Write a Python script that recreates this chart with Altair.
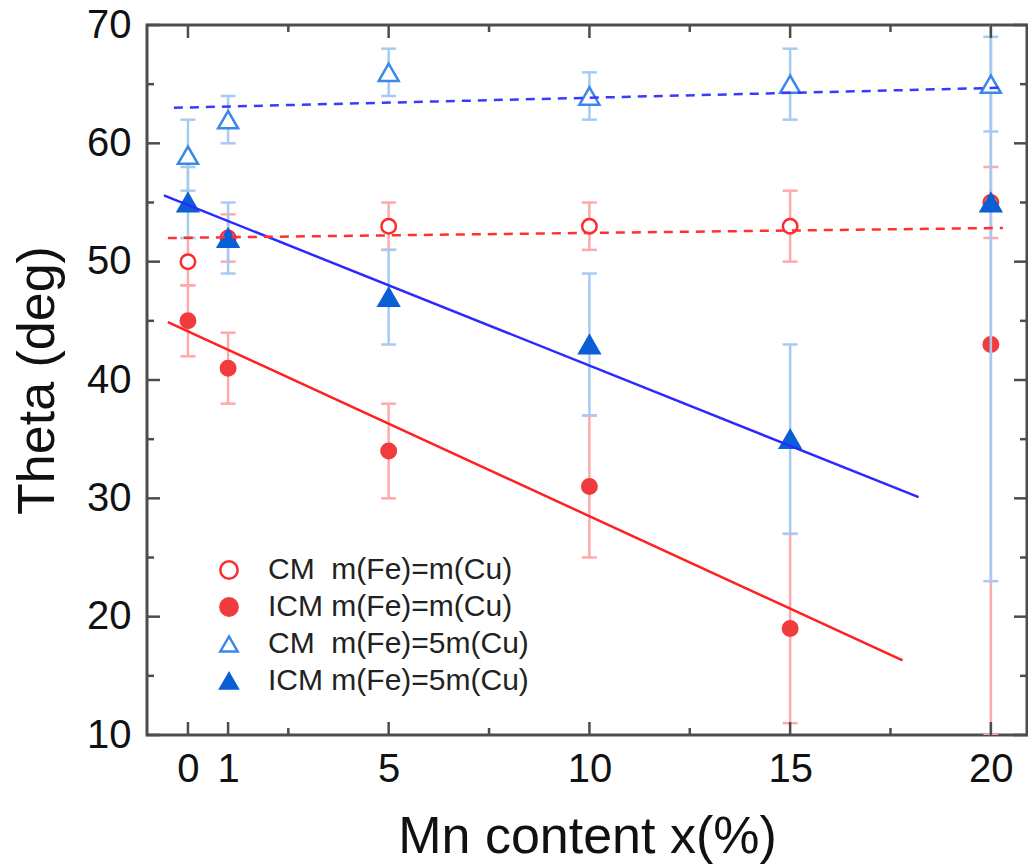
import altair as alt
import pandas as pd

# ---------------- data ----------------
x_vals = [0, 1, 5, 10, 15, 20]
cm_red = [50, 52, 53, 53, 53, 55]
cm_red_err = [2, 2, 2, 2, 3, 3]
icm_red = [45, 41, 34, 31, 19, 43]
icm_red_err = [3, 3, 4, 6, 8, 33]
cm_blue = [59, 62, 66, 64, 65, 65]
cm_blue_err = [3, 2, 2, 2, 3, 4]
icm_blue = [55, 52, 47, 43, 35, 55]
icm_blue_err = [3, 3, 4, 6, 8, 32]

series_names = ["CM\u00a0\u00a0m(Fe)=m(Cu)", "ICM m(Fe)=m(Cu)",
                "CM\u00a0\u00a0m(Fe)=5m(Cu)", "ICM m(Fe)=5m(Cu)"]
stroke_colors = ["#ff2b2b", "#f03c3c", "#3a88e8", "#0a5fd6"]
fill_colors = ["#ffffff", "#f03c3c", "#ffffff", "#0a5fd6"]
shapes = ["circle", "circle", "triangle-up", "triangle-up"]

# linear fit lines (end points)
fit_names = ["fit CM red", "fit ICM red", "fit CM blue", "fit ICM blue"]
fit_x0 = [-0.5, -0.5, -0.35, -0.6]
fit_x1 = [20.3, 17.8, 20.3, 18.2]
fit_y0 = [52.0, 44.9, 63.0, 55.6]
fit_y1 = [52.85, 16.3, 64.7, 30.1]
fit_colors = ["#ff3030", "#ff2020", "#3a3aff", "#2a2aff"]
fit_dashed = [True, False, True, False]

x_major_bottom = [0, 1, 5, 10, 15, 20]
x_major_top = [0, 5, 10, 15, 20]
x_minor = [2.5, 7.5, 12.5, 17.5]
y_major = [10, 20, 30, 40, 50, 60, 70]
y_minor = [15, 25, 35, 45, 55, 65]

# ---------------- tables ----------------
rows = []
for name, vals, errs, grp in [
    (series_names[0], cm_red, cm_red_err, "red"),
    (series_names[1], icm_red, icm_red_err, "red"),
    (series_names[2], cm_blue, cm_blue_err, "blue"),
    (series_names[3], icm_blue, icm_blue_err, "blue"),
]:
    for xv, v, e in zip(x_vals, vals, errs):
        rows.append(dict(x=xv, y=v, lo=v - e, hi=v + e, series=name, grp=grp))
df = pd.DataFrame(rows)
red_df = df[df.grp == "red"]
blue_df = df[df.grp == "blue"]

fits = pd.DataFrame(dict(name=fit_names, x0=fit_x0, x1=fit_x1, y0=fit_y0,
                         y1=fit_y1, color=fit_colors, dashed=fit_dashed))

W, H = 880, 710
FONT = "Liberation Sans"

xs = alt.Scale(domain=[-1.02, 20.9], nice=False, zero=False)
ys = alt.Scale(domain=[10, 70], nice=False, zero=False)

xaxis = alt.Axis(values=x_major_bottom, ticks=False, domain=False, grid=False,
                 labelFontSize=40, labelFont=FONT, labelColor="#111",
                 labelPadding=14, labelFlush=False, labelOverlap=False,
                 title="Mn content x(%)", titleFont=FONT, titleFontSize=52,
                 titleFontWeight="normal", titleColor="#111",
                 titleY=117, titleBaseline="alphabetic")
yaxis = alt.Axis(values=y_major, ticks=False, domain=False, grid=False,
                 labelFontSize=40, labelFont=FONT, labelColor="#111",
                 labelPadding=16, labelFlush=False, labelOverlap=False,
                 title="Theta (deg)", titleFont=FONT, titleFontSize=52,
                 titleFontWeight="normal", titleColor="#111",
                 titleX=-94, titleY=355, titleBaseline="alphabetic")


def X(f):
    return alt.X(f, type="quantitative", scale=xs, axis=xaxis)


def Y(f):
    return alt.Y(f, type="quantitative", scale=ys, axis=yaxis)


legend = alt.Legend(title=None, orient="none", legendX=67, legendY=530,
                    labelFont=FONT, labelFontSize=30, labelColor="#222",
                    labelLimit=600,
                    symbolSize=300, symbolStrokeWidth=2.5, rowPadding=7,
                    labelOffset=24, padding=0, symbolOpacity=1)


def point_enc():
    return dict(
        x=X("x"), y=Y("y"),
        stroke=alt.Stroke("series:N", scale=alt.Scale(domain=series_names, range=stroke_colors), legend=legend),
        fill=alt.Fill("series:N", scale=alt.Scale(domain=series_names, range=fill_colors), legend=legend),
        shape=alt.Shape("series:N", scale=alt.Scale(domain=series_names, range=shapes), legend=legend),
    )


def errbars(d, color):
    base = alt.Chart(d)
    bar = base.mark_rule(color=color, strokeWidth=2.5, clip=True).encode(
        x=X("x"), y=Y("lo"), y2="hi")
    cap_hi = base.mark_rule(color=color, strokeWidth=2.5, clip=True,
                            xOffset=-7.5, x2Offset=7.5).encode(
        x=X("x"), x2="x", y=Y("hi"))
    cap_lo = base.mark_rule(color=color, strokeWidth=2.5, clip=True,
                            xOffset=-7.5, x2Offset=7.5).encode(
        x=X("x"), x2="x", y=Y("lo"))
    return [bar, cap_hi, cap_lo]


# fit lines
fit_solid = alt.Chart(fits[~fits.dashed]).mark_rule(strokeWidth=2.5).encode(
    x=X("x0"), x2="x1", y=Y("y0"), y2="y1",
    color=alt.Color("color:N", scale=None))
fit_dash = alt.Chart(fits[fits.dashed]).mark_rule(strokeWidth=2.5, strokeDash=[9, 7]).encode(
    x=X("x0"), x2="x1", y=Y("y0"), y2="y1",
    color=alt.Color("color:N", scale=None))

red_pts = alt.Chart(red_df).mark_point(size=210, strokeWidth=2.5, opacity=1,
                                       fillOpacity=1).encode(**point_enc())
blue_pts = alt.Chart(blue_df).mark_point(size=400, strokeWidth=2.5, opacity=1,
                                         fillOpacity=1).encode(**point_enc())

# inward ticks on all four sides
TICK_C = "#4d4d4d"
def xticks(vals, length, top):
    d = pd.DataFrame(dict(v=vals))
    if top:
        yv, y2v = 0, length
    else:
        yv, y2v = H, H - length
    return alt.Chart(d).mark_rule(color=TICK_C, strokeWidth=2.5).encode(
        x=X("v"), y=alt.value(yv), y2=alt.value(y2v))


def yticks(vals, length, right):
    d = pd.DataFrame(dict(v=vals))
    if right:
        xv, x2v = W, W - length
    else:
        xv, x2v = 0, length
    return alt.Chart(d).mark_rule(color=TICK_C, strokeWidth=2.5).encode(
        y=Y("v"), x=alt.value(xv), x2=alt.value(x2v))


tick_layers = [
    xticks(x_major_bottom, 13, False), xticks(x_minor, 7, False),
    xticks(x_major_top, 13, True), xticks(x_minor, 7, True),
    yticks(y_major, 13, False), yticks(y_minor, 7, False),
    yticks(y_major, 13, True), yticks(y_minor, 7, True),
]

layers = errbars(red_df, "#ffaaaa") + [red_pts] + \
    errbars(blue_df, "#a6cbf3") + [blue_pts] + [fit_solid, fit_dash] + tick_layers

chart = alt.layer(*layers).properties(
    width=W, height=H,
    autosize=alt.AutoSizeParams(type="none"),
    padding={"left": 147, "top": 25, "right": 1, "bottom": 131},
    background="white",
).configure_view(stroke="#4d4d4d", strokeWidth=3)

chart.save("out.html", embed_options={"renderer": "svg", "actions": False})
